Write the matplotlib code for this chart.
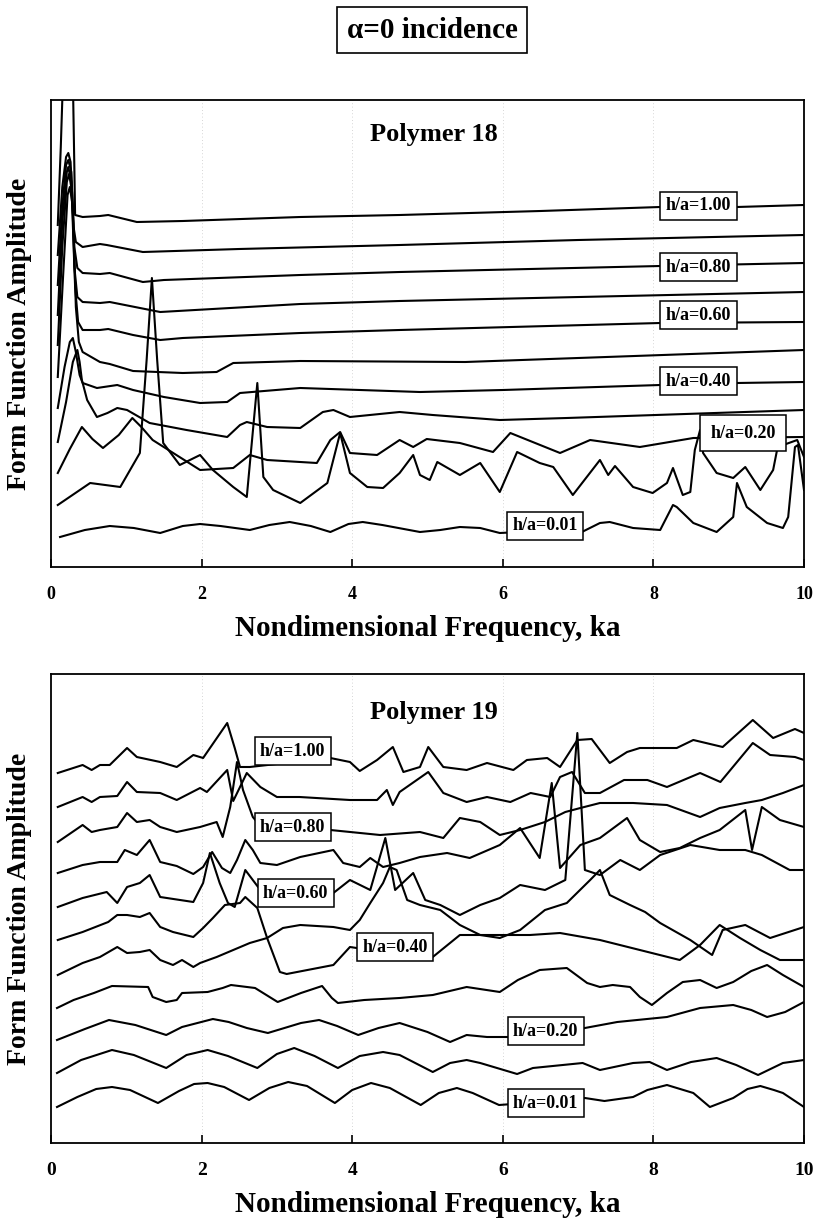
import matplotlib.pyplot as plt

plt.rcParams['font.family'] = ['Liberation Serif', 'DejaVu Serif']
plt.rcParams['font.weight'] = 'bold'

# ---------------- Polymer 18 (ka, amplitude in arbitrary units) ----------------
ka18_100 = [0.09, 0.13, 0.16, 0.22, 0.29, 0.31, 0.32, 0.42, 0.65, 0.76, 1.14, 1.75, 3.31, 4.63, 6.5, 8.09, 9.11, 10]
am18_100 = [342, 420, 490, 540, 490, 400, 352, 350, 351, 352, 345, 346, 350, 352, 356, 360, 360, 362]
ka18_090 = [0.09, 0.15, 0.2, 0.23, 0.26, 0.3, 0.33, 0.42, 0.65, 0.74, 1.22, 2.5, 4.63, 7, 10]
am18_090 = [312, 380, 410, 414, 405, 340, 325, 320, 323, 322, 315, 318, 322, 327, 332]
ka18_080 = [0.09, 0.15, 0.2, 0.23, 0.27, 0.31, 0.35, 0.42, 0.65, 0.78, 1.22, 1.5, 3.31, 4.63, 8.09, 10]
am18_080 = [282, 360, 402, 407, 395, 320, 299, 294, 293, 294, 285, 287, 292, 295, 301, 304]
ka18_070 = [0.09, 0.15, 0.21, 0.23, 0.27, 0.31, 0.35, 0.42, 0.65, 0.78, 1.45, 3.31, 4.63, 10]
am18_070 = [252, 345, 395, 400, 385, 300, 270, 265, 264, 265, 255, 263, 266, 275]
ka18_060 = [0.09, 0.15, 0.21, 0.24, 0.28, 0.32, 0.36, 0.42, 0.65, 0.76, 1.09, 1.45, 1.75, 3.31, 4.63, 8.09, 10]
am18_060 = [222, 320, 385, 393, 375, 280, 245, 237, 237, 238, 232, 227, 229, 234, 237, 244, 245]
ka18_050 = [0.09, 0.16, 0.22, 0.25, 0.29, 0.33, 0.37, 0.42, 0.65, 0.78, 1.09, 1.75, 2.2, 2.42, 3.31, 5.5, 10]
am18_050 = [190, 290, 372, 380, 360, 260, 225, 215, 205, 203, 196, 194, 195, 204, 206, 205, 217]
ka18_040 = [0.09, 0.18, 0.25, 0.29, 0.33, 0.38, 0.42, 0.61, 0.88, 1.09, 1.5, 1.98, 2.34, 2.51, 3.31, 4.9, 6.0,
            8.09, 9.11, 10]
am18_040 = [159, 200, 225, 229, 215, 192, 184, 179, 182, 177, 170, 164, 165, 174, 179, 175, 177,
            182, 184, 185]
ka18_030 = [0.09, 0.2, 0.29, 0.35, 0.38, 0.41, 0.48, 0.61, 0.75, 0.88, 1.01, 1.31, 1.8, 2.34, 2.51, 2.6, 2.87,
            3.31, 3.61, 3.75, 3.97, 4.63, 5.07, 5.96, 6.85, 10]
am18_030 = [125, 165, 205, 217, 205, 187, 167, 150, 154, 159, 157, 144, 137, 130, 142, 145, 140,
            139, 155, 157, 150, 155, 152, 147, 149, 157]
ka18_020 = [0.09, 0.25, 0.41, 0.55, 0.69, 0.9, 1.08, 1.2, 1.35, 1.98, 2.42, 2.64, 2.87, 3.53, 3.71, 3.84, 3.97,
            4.33, 4.63, 4.81, 4.99, 5.43, 5.87, 6.10, 6.76, 7.16, 7.82, 8.53, 10]
am18_020 = [94, 118, 140, 128, 119, 132, 149, 140, 127, 97, 99, 112, 107, 104, 127, 135, 114,
            112, 127, 120, 128, 124, 115, 134, 114, 127, 120, 129, 130]
ka18_010 = [0.09, 0.52, 0.92, 1.18, 1.27, 1.34, 1.41, 1.49, 1.71, 1.98, 2.15, 2.42, 2.60, 2.74, 2.82, 2.95,
            3.31, 3.67, 3.84, 3.97, 4.2, 4.41, 4.63, 4.81, 4.9, 5.03, 5.13, 5.43, 5.70, 5.96, 6.19, 6.49,
            6.67, 6.93, 7.29, 7.40, 7.49, 7.73, 7.99, 8.18, 8.26, 8.39, 8.49, 8.55, 8.62, 8.66, 8.84, 9.06,
            9.22, 9.42, 9.59, 9.65, 9.91, 10]
am18_010 = [62, 84, 80, 114, 207, 289, 207, 124, 102, 112, 97, 80, 70, 184, 90, 77,
            64, 84, 134, 94, 80, 79, 94, 112, 92, 87, 105, 92, 104, 75, 115, 104,
            100, 72, 107, 92, 101, 80, 74, 84, 99, 72, 75, 117, 137, 114, 94, 89,
            100, 77, 97, 120, 127, 110]
ka18_001 = [0.12, 0.45, 0.78, 1.1, 1.45, 1.75, 1.98, 2.25, 2.64, 2.9, 3.17, 3.45, 3.71, 3.95, 4.14, 4.4, 4.9,
            5.17, 5.43, 5.7, 5.96, 6.5, 7.05, 7.29, 7.42, 7.73, 8.09, 8.26, 8.31, 8.53, 8.84, 9.06, 9.11,
            9.24, 9.51, 9.72, 9.79, 9.88, 9.92, 10]
am18_001 = [30, 37, 41, 39, 34, 41, 43, 41, 37, 42, 45, 41, 35, 43, 45, 42, 35,
            37, 40, 39, 34, 36, 35, 44, 45, 39, 37, 62, 60, 44, 35, 50, 84,
            60, 44, 39, 50, 120, 122, 77]

labels18 = ['h/a=1.00', 'h/a=0.80', 'h/a=0.60', 'h/a=0.40', 'h/a=0.20', 'h/a=0.01']
lab18_ka = [8.6, 8.6, 8.6, 8.6, 9.19, 6.56]
lab18_am = [361, 300, 252, 186, 134, 41]
lab18_pad = [0.3, 0.3, 0.3, 0.3, 0.55, 0.3]

# ---------------- Polymer 19 ----------------
ka19_100 = [0.09, 0.42, 0.54, 0.65, 0.78, 1.01, 1.14, 1.45, 1.67, 1.89, 2.02, 2.34, 2.44, 2.51, 2.64, 3.71,
            3.97, 4.10, 4.33, 4.54, 4.68, 4.90, 5.01, 5.21, 5.52, 5.79, 6.14, 6.32, 6.59, 6.76, 6.99, 7.18,
            7.42, 7.65, 7.82, 8.31, 8.53, 8.92, 9.32, 9.59, 9.88, 10]
am19_100 = [370, 378, 373, 378, 378, 395, 386, 381, 376, 388, 385, 420, 395, 376, 376, 385,
            381, 372, 383, 396, 371, 376, 396, 376, 373, 380, 373, 383, 385, 376, 403, 404,
            380, 391, 395, 395, 403, 396, 423, 405, 414, 410]
ka19_090 = [0.09, 0.42, 0.54, 0.65, 0.88, 1.01, 1.14, 1.45, 1.67, 1.98, 2.07, 2.34, 2.42, 2.6, 2.78,
            3.0, 3.3, 3.97, 4.33, 4.46, 4.54, 4.63, 5.01, 5.21, 5.52, 5.79, 6.10, 6.37, 6.63, 6.76,
            6.92, 7.09, 7.29, 7.61, 7.92, 8.18, 8.62, 8.89, 9.32, 9.55, 9.88, 10]
am19_090 = [336, 346, 341, 346, 347, 361, 351, 350, 343, 355, 351, 373, 342, 370, 356,
            346, 346, 343, 343, 353, 338, 351, 371, 350, 341, 346, 341, 350, 346, 366,
            371, 350, 350, 363, 363, 356, 370, 361, 400, 388, 386, 383]
ka19_080 = [0.09, 0.42, 0.54, 0.65, 0.88, 1.01, 1.14, 1.31, 1.45, 1.67, 1.98, 2.20, 2.28, 2.38, 2.47, 2.55,
            2.68, 2.78, 3.71, 4.37, 4.90, 5.21, 5.43, 5.70, 5.96, 6.23, 6.56, 6.83, 7.03, 7.29, 7.73, 8.18,
            8.62, 8.88, 9.22, 9.44, 9.72, 10]
am19_080 = [301, 318, 311, 313, 316, 330, 321, 323, 316, 311, 316, 321, 306, 336, 381, 353,
            326, 317, 313, 308, 311, 305, 325, 321, 308, 313, 321, 331, 335, 340, 340, 338,
            326, 335, 340, 343, 350, 358]
ka19_070 = [0.09, 0.42, 0.65, 0.88, 0.98, 1.14, 1.31, 1.45, 1.67, 1.89, 2.02, 2.14, 2.27, 2.38, 2.47, 2.58,
            2.68, 2.78, 3.0, 3.31, 3.75, 3.88, 4.1, 4.24, 4.41, 4.63, 4.9, 5.26, 5.56, 5.96, 6.23, 6.49,
            6.65, 6.76, 7.03, 7.29, 7.65, 7.82, 8.09, 8.35, 8.62, 8.88, 9.22, 9.31, 9.44, 9.68, 10]
am19_070 = [270, 278, 281, 281, 293, 288, 303, 281, 277, 269, 276, 291, 275, 270, 283, 303,
            293, 280, 278, 286, 293, 280, 276, 285, 276, 280, 286, 290, 285, 298, 315, 285,
            360, 275, 298, 305, 325, 303, 291, 295, 305, 313, 333, 293, 336, 323, 316]
ka19_060 = [0.09, 0.42, 0.74, 0.88, 1.01, 1.18, 1.31, 1.45, 1.89, 2.02, 2.11, 2.24, 2.35, 2.44, 2.58, 2.75,
            3.2, 3.75, 3.97, 4.24, 4.44, 4.57, 4.81, 4.97, 5.17, 5.43, 5.70, 5.96, 6.23, 6.56, 6.83, 6.99,
            7.09, 7.29, 7.56, 7.82, 8.09, 8.49, 8.88, 9.22, 9.44, 9.81, 10]
am19_060 = [236, 245, 251, 240, 256, 260, 268, 246, 241, 260, 290, 260, 240, 236, 273, 256,
            252, 250, 263, 253, 305, 253, 270, 243, 238, 228, 238, 245, 258, 253, 263, 410,
            273, 268, 283, 273, 288, 298, 293, 293, 288, 273, 273]
ka19_050 = [0.09, 0.42, 0.76, 0.88, 1.01, 1.18, 1.31, 1.45, 1.62, 1.89, 2.02, 2.15, 2.31, 2.51, 2.58, 2.74,
            2.87, 3.04, 3.13, 3.75, 3.97, 4.5, 5.07, 5.43, 5.70, 5.96, 6.23, 6.56, 6.85, 7.16, 7.29, 7.42,
            7.69, 7.89, 8.09, 8.49, 8.78, 8.92, 9.22, 9.55, 10]
am19_050 = [203, 211, 221, 228, 228, 226, 230, 216, 211, 206, 215, 225, 238, 240, 246, 235,
            205, 171, 169, 178, 196, 190, 186, 208, 208, 205, 213, 233, 240, 263, 273, 248,
            238, 231, 220, 203, 188, 213, 218, 205, 216]
ka19_040 = [0.09, 0.42, 0.65, 0.88, 1.01, 1.18, 1.31, 1.45, 1.62, 1.74, 1.89, 1.98, 2.20, 2.42, 2.64, 2.87,
            3.08, 3.31, 3.75, 3.97, 4.10, 4.24, 4.41, 4.50, 4.59, 4.73, 4.90, 5.17, 5.43, 5.70, 5.96, 6.36,
            6.76, 7.29, 7.82, 8.35, 8.62, 8.88, 9.15, 9.42, 9.68, 10]
am19_040 = [168, 180, 186, 196, 190, 191, 193, 183, 178, 183, 176, 180, 186, 193, 200, 205,
            215, 218, 216, 213, 223, 240, 260, 276, 273, 243, 238, 233, 218, 208, 208, 208,
            210, 203, 193, 183, 198, 218, 205, 193, 183, 183]
ka19_030 = [0.08, 0.3, 0.57, 0.81, 1.29, 1.35, 1.53, 1.67, 1.74, 2.08, 2.28, 2.39, 2.71, 3.01, 3.32, 3.60, 3.73,
            3.81, 4.16, 4.63, 5.07, 5.52, 5.96, 6.2, 6.49, 6.85, 7.12, 7.29, 7.46, 7.69, 7.82, 7.98, 8.18,
            8.39, 8.62, 8.84, 9.06, 9.3, 9.51, 9.72, 10]
am19_030 = [135, 143, 150, 157, 156, 146, 141, 143, 150, 151, 155, 158, 155, 141, 150, 157, 145,
            140, 143, 145, 148, 156, 151, 163, 173, 175, 160, 156, 158, 156, 146, 138, 150,
            161, 163, 155, 161, 172, 178, 168, 156]
ka19_020 = [0.08, 0.45, 0.77, 1.12, 1.53, 1.74, 2.15, 2.36, 2.6, 2.88, 3.32, 3.56, 3.8, 4.08, 4.35, 4.63, 5.0,
            5.3, 5.52, 5.79, 6.1, 7.09, 7.52, 8.18, 8.62, 9.06, 9.3, 9.51, 9.75, 10]
am19_020 = [103, 114, 123, 118, 108, 116, 124, 121, 115, 110, 120, 123, 117, 108, 115, 120, 111,
            101, 108, 106, 106, 115, 121, 126, 135, 138, 133, 126, 131, 141]
ka19_010 = [0.08, 0.4, 0.81, 1.1, 1.53, 1.8, 2.08, 2.35, 2.74, 3.0, 3.23, 3.5, 3.81, 4.1, 4.41, 4.63, 5.07,
            5.3, 5.52, 5.70, 6.19, 6.40, 7.06, 7.29, 7.73, 7.95, 8.18, 8.5, 8.84, 9.1, 9.39, 9.72, 10]
am19_010 = [70, 83, 93, 88, 75, 88, 93, 87, 75, 89, 95, 87, 75, 87, 91, 88, 71,
            80, 83, 80, 69, 75, 80, 73, 80, 81, 73, 81, 85, 78, 68, 80, 83]
ka19_001 = [0.08, 0.35, 0.6, 0.81, 1.05, 1.42, 1.7, 1.9, 2.08, 2.3, 2.63, 2.9, 3.15, 3.4, 3.77, 4.0, 4.25,
            4.5, 4.91, 5.15, 5.39, 5.6, 5.95, 6.5, 7.09, 7.35, 7.73, 7.92, 8.18, 8.53, 8.75, 9.06, 9.25,
            9.42, 9.6, 9.72, 10]
am19_001 = [36, 46, 54, 56, 53, 40, 52, 59, 60, 56, 43, 55, 61, 57, 40, 53, 60,
            55, 38, 50, 55, 50, 38, 41, 45, 42, 46, 53, 58, 50, 36, 45, 54,
            57, 53, 50, 36]

labels19 = ['h/a=1.00', 'h/a=0.80', 'h/a=0.60', 'h/a=0.40', 'h/a=0.20', 'h/a=0.01']
lab19_ka = [3.21, 3.21, 3.25, 4.57, 6.57, 6.57]
lab19_am = [392, 316, 250, 196, 112, 40]
lab19_pad = [0.3, 0.3, 0.3, 0.3, 0.3, 0.3]

curves18 = [(ka18_100, am18_100), (ka18_090, am18_090), (ka18_080, am18_080), (ka18_070, am18_070),
            (ka18_060, am18_060), (ka18_050, am18_050), (ka18_040, am18_040), (ka18_030, am18_030),
            (ka18_020, am18_020), (ka18_010, am18_010), (ka18_001, am18_001)]
curves19 = [(ka19_100, am19_100), (ka19_090, am19_090), (ka19_080, am19_080), (ka19_070, am19_070),
            (ka19_060, am19_060), (ka19_050, am19_050), (ka19_040, am19_040), (ka19_030, am19_030),
            (ka19_020, am19_020), (ka19_010, am19_010), (ka19_001, am19_001)]

W, H = 814, 1219
fig = plt.figure(figsize=(W / 100, H / 100), dpi=100)


def setup(ax, curves, labels, lab_ka, lab_am, lab_pad, ytop, title, title_y, tick_fs):
    for ka, am in curves:
        ax.plot(ka, am, color='black', lw=1.5, solid_joinstyle='round')
    for t, x, y, p in zip(labels, lab_ka, lab_am, lab_pad):
        ax.text(x, y, t, ha='center', va='center', fontsize=13, fontweight='bold', zorder=5,
                bbox=dict(boxstyle='square,pad=%g' % p, fc='white', ec='black', lw=1.1))
    for g in [2, 4, 6, 8]:
        ax.axvline(g, color='#c8c8c8', lw=0.6, ls=(0, (1, 3)), zorder=0)
    ax.set_xlim(0, 10)
    ax.set_ylim(0, ytop)
    ax.set_xticks([0, 2, 4, 6, 8, 10])
    ax.set_xticklabels(['0', '2', '4', '6', '8', '10'], fontsize=tick_fs, fontweight='bold')
    ax.set_yticks([])
    ax.tick_params(axis='x', direction='in', length=6, width=1.2, pad=14)
    for s in ax.spines.values():
        s.set_linewidth(1.3)
    ax.set_xlabel('Nondimensional Frequency, ka', fontsize=21, fontweight='bold', labelpad=8)
    ax.set_ylabel('Form Function Amplitude', fontsize=20, fontweight='bold', labelpad=14)
    fig.text(434 / W, 1 - title_y / H, title, ha='center', va='center', fontsize=19, fontweight='bold')


ax1 = fig.add_axes([51 / W, 1 - 567 / H, 753 / W, 467 / H])
setup(ax1, curves18, labels18, lab18_ka, lab18_am, lab18_pad, 467, 'Polymer 18', 135, 13)
ax2 = fig.add_axes([51 / W, 1 - 1143 / H, 753 / W, 469 / H])
setup(ax2, curves19, labels19, lab19_ka, lab19_am, lab19_pad, 469, 'Polymer 19', 712, 14)

fig.text(432 / W, 1 - 30 / H, '\u03b1=0 incidence', ha='center', va='center', fontsize=21, fontweight='bold',
         bbox=dict(boxstyle='square,pad=0.33', fc='white', ec='black', lw=1.2))

fig.savefig('out.png', dpi=100)
